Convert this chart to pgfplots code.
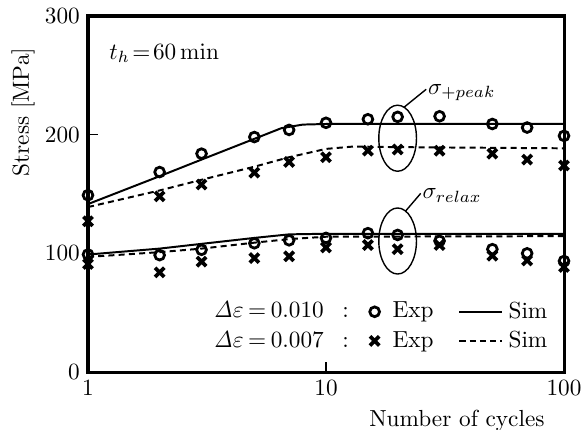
\documentclass[border=0pt]{standalone}
\usepackage{pgfplots}
\pgfplotsset{compat=1.18}
\pgfplotsset{simline legend/.style={legend image code/.code={\draw[##1] (0pt,0pt) -- (18.5pt,0pt);}}}
\begin{document}
\begin{tikzpicture}
\begin{axis}[
  name=ax,
  scale only axis,
  width=204.7pt, height=153.1pt,
  xmode=log, xmin=1, xmax=100, ymin=0, ymax=300,
  log basis x=10,
  xtick={1,10,100}, xticklabels={1,10,100},
  ytick={0,100,200,300},
  minor xtick={}, minor ytick={},
  xminorticks=false,
  xtick pos=bottom, ytick pos=left,
  tick align=inside,
  major tick length=4.3pt,
  tick style={line width=0.6pt, black},
  axis line style={line width=1.3pt},
  clip=false,
  xlabel={Number of cycles},
  ylabel={Stress [MPa]},
  xlabel style={at={(axis description cs:0.775,-0.085)}, anchor=north},
  ylabel style={at={(axis description cs:-0.1366,0.73)}, anchor=center},
  legend columns=3,
  legend style={draw=none, fill=none, inner xsep=0pt, inner ysep=0pt,
    nodes={inner sep=0pt}, row sep=4pt, column sep=0pt,
    /tikz/column 2/.style={column sep=9pt},
    /tikz/column 3/.style={column sep=5.6pt},
    /tikz/column 4/.style={column sep=10.7pt},
    /tikz/column 5/.style={column sep=2.2pt},
    at={(axis description cs:0.966,0.058)}, anchor=south east, font=\normalsize},
  legend cell align=left,
]
% simulation curves
\addplot[forget plot, black, line width=0.85pt] coordinates {
 (1,141.5) (2,165) (3,179) (5,196.5) (6.5,205.5) (8,208.5) (10,209) (100,209)};
\addplot[forget plot, black, line width=0.85pt, dash pattern=on 2.6pt off 1.8pt] coordinates {
 (1,139) (2,153) (3,162) (5,173) (7,181) (10,188) (13,190) (20,189.5) (100,188.5)};
\addplot[forget plot, black, line width=0.85pt] coordinates {
 (1,99) (2,104) (3,108) (5,113) (7,116) (10,116.5) (100,116.5)};
\addplot[forget plot, black, line width=0.85pt, dash pattern=on 2.6pt off 1.8pt] coordinates {
 (1,97) (2,101) (3,104) (5,109) (7,112) (10,114) (100,114.5)};
% experiments
\addplot[forget plot, only marks, mark=o, mark size=2.1pt, line width=1.2pt] coordinates {
 (1,149) (2,168.5) (3,184) (5,198) (7,204) (10,210) (15,213) (20,215) (30,215.5) (50,209) (70,206) (100,199)};
\addplot[forget plot, only marks, mark=x, mark size=2.8pt, line width=1.6pt] coordinates {
 (1,127) (2,148) (3,158) (5,168) (7,177) (10,181) (15,186.5) (20,187.5) (30,186.5) (50,184) (70,179) (100,174)};
\addplot[forget plot, only marks, mark=o, mark size=2.1pt, line width=1.2pt] coordinates {
 (1,99) (2,98.5) (3,103) (5,108.5) (7,111) (10,113) (15,117) (20,115.5) (30,110.5) (50,103.5) (70,100) (100,93.5)};
\addplot[forget plot, only marks, mark=x, mark size=2.8pt, line width=1.6pt] coordinates {
 (1,91) (2,84) (3,93) (5,96) (7,97.5) (10,105) (15,107) (20,103.5) (30,107) (50,98) (70,94) (100,88.5)};
% legend
\addlegendimage{empty legend}
\addlegendentry{$\mathit{\Delta}\varepsilon\mkern-1.5mu=\mkern-1.5mu0.010$\hspace{8pt}:}
\addlegendimage{only marks, mark=o, mark size=2.1pt, line width=1.2pt}
\addlegendentry{Exp}
\addlegendimage{black, line width=0.85pt, simline legend}
\addlegendentry{Sim}
\addlegendimage{empty legend}
\addlegendentry{$\mathit{\Delta}\varepsilon\mkern-1.5mu=\mkern-1.5mu0.007$\hspace{8pt}:}
\addlegendimage{only marks, mark=x, mark size=2.8pt, line width=1.6pt}
\addlegendentry{Exp}
\addlegendimage{black, line width=0.85pt, dash pattern=on 2.6pt off 1.8pt, simline legend}
\addlegendentry{Sim}
% annotations
\node[anchor=west, inner sep=0pt] at (axis description cs:0.044,0.896) {$t_h\!=\!60\,\mathrm{min}$};
\draw[line width=0.6pt] (axis cs:20,197) ellipse [x radius=8.1pt, y radius=14.2pt];
\draw[line width=0.6pt] (axis cs:20,197) ++(2.77pt,13.34pt) -- ++(9.5pt,7.7pt)
  node[anchor=base west, inner sep=0.5pt, yshift=-2.2pt] {$\sigma_{+peak}$};
\draw[line width=0.6pt] (axis cs:20,110.4) ellipse [x radius=8.1pt, y radius=14.2pt];
\draw[line width=0.6pt] (axis cs:20,110.4) ++(3.42pt,12.87pt) -- ++(6.5pt,7.6pt)
  node[anchor=base west, inner sep=0.5pt, yshift=-2.2pt] {$\sigma_{relax}$};
\end{axis}
\pgfresetboundingbox
\useasboundingbox ([shift={(-37.84pt,-24.51pt)}]ax.south west) rectangle ([shift={(8.17pt,6.88pt)}]ax.north east);
\end{tikzpicture}
\end{document}
